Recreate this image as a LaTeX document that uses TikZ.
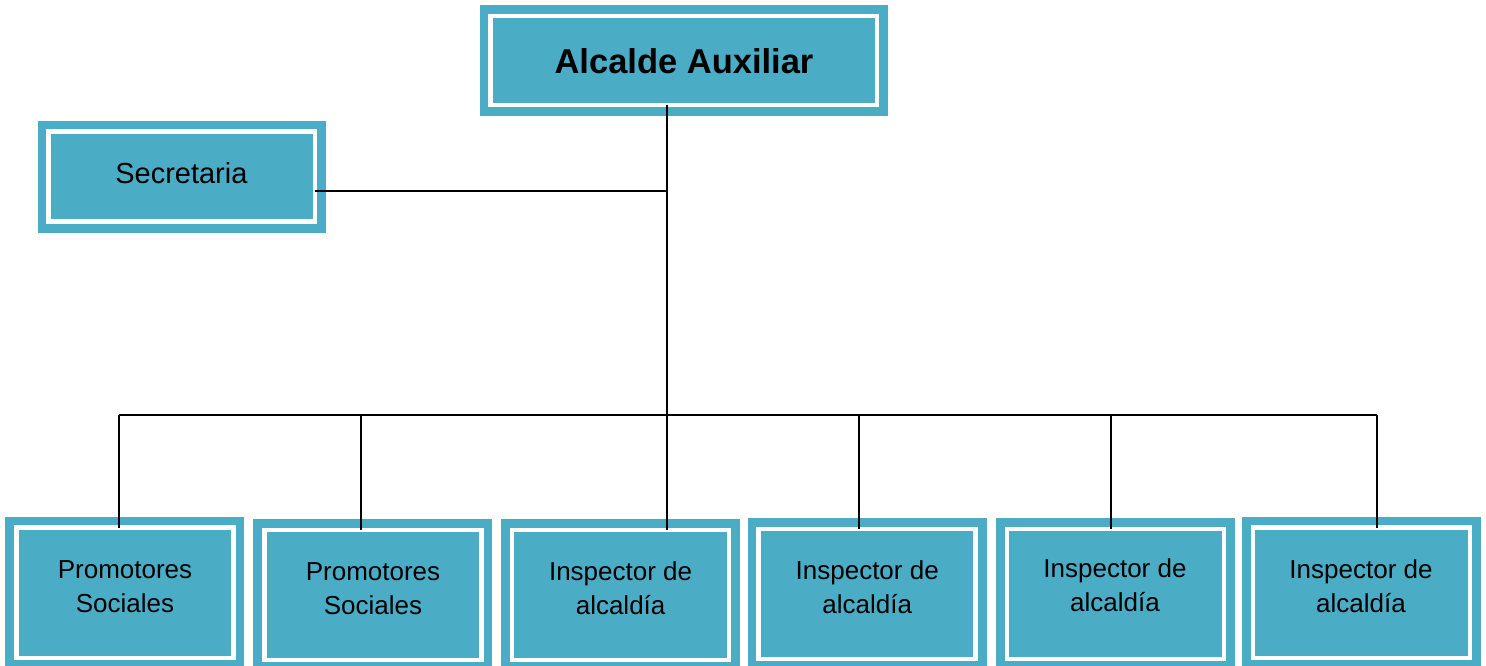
\documentclass[tikz,border=0pt]{standalone}
\usepackage{fontspec}
\setmainfont{Liberation Sans}
\definecolor{boxc}{HTML}{4BACC6}
\begin{document}
\begin{tikzpicture}[x=1pt,y=-1pt,
  orgbox/.style={draw=boxc, fill=boxc, double=white, double distance=4.5pt,
    line width=8.75pt, inner sep=0pt, outer sep=0pt, rectangle},
  conn/.style={draw=black, line width=2pt},
  lbl/.style={inner sep=0pt, outer sep=0pt, align=center, anchor=base,
    font=\fontsize{26}{34}\selectfont},
  ]
\useasboundingbox (0,0) rectangle (1486,666);
\clip (0,0) rectangle (1486,666);
% boxes
\node[orgbox, minimum width=386.5pt, minimum height=89pt] (a) at (683.75,60.5) {};
\node[orgbox, minimum width=266.5pt, minimum height=90pt] (s) at (181.75,176.7) {};
\node[orgbox, minimum width=217pt, minimum height=130.5pt] (b1) at (124.75,592.75) {};
\node[orgbox, minimum width=217pt, minimum height=130pt] (b2) at (372.8,595) {};
\node[orgbox, minimum width=217pt, minimum height=130pt] (b3) at (620.6,595) {};
\node[orgbox, minimum width=217pt, minimum height=130pt] (b4) at (867.2,594) {};
\node[orgbox, minimum width=217pt, minimum height=130pt] (b5) at (1115.5,594) {};
\node[orgbox, minimum width=217pt, minimum height=130.5pt] (b6) at (1361.25,592.75) {};
% texts
\node[inner sep=0pt, anchor=base, font=\bfseries\fontsize{34.5}{40}\selectfont] (ta) at (684,74) {Alcalde Auxiliar};
\node[inner sep=0pt, anchor=base, font=\fontsize{29}{34}\selectfont] (ts) at (181.4,183.3) {Secretaria};
\node[lbl] (t1) at (125,612) {Promotores\\Sociales};
\node[lbl] (t2) at (373,614) {Promotores\\Sociales};
\node[lbl] (t3) at (620.6,614) {Inspector de\\alcaldía};
\node[lbl] (t4) at (867.2,613) {Inspector de\\alcaldía};
\node[lbl] (t5) at (1115,611.5) {Inspector de\\alcaldía};
\node[lbl] (t6) at (1361,612) {Inspector de\\alcaldía};
% connector coordinates
\coordinate (jS) at (667,191);
\coordinate (jB) at (667,415);
\coordinate (d1) at (119,415);
\coordinate (d2) at (361,415);
\coordinate (d4) at (859,415);
\coordinate (d5) at (1111,415);
\coordinate (d6) at (1377,415);
% connectors
\draw[conn] (jS |- a.south) -- (jB);
\draw[conn] (s.east |- jS) -- (jS);
\draw[conn] (d1) -- (d6);
\draw[conn] (d1) -- (d1 |- b1.north);
\draw[conn] (d2) -- (d2 |- b2.north);
\draw[conn] (jB) -- (jB |- b3.north);
\draw[conn] (d4) -- (d4 |- b4.north);
\draw[conn] (d5) -- (d5 |- b5.north);
\draw[conn] (d6) -- (d6 |- b6.north);
\end{tikzpicture}
\end{document}
